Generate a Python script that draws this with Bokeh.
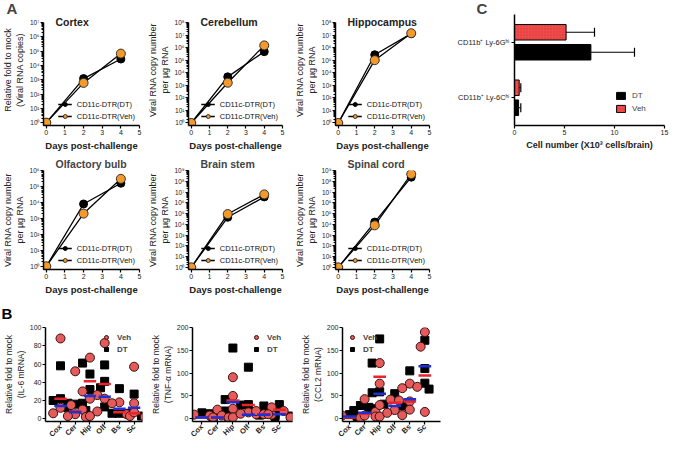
import math
from bokeh.plotting import figure
from bokeh.layouts import column, row
from bokeh.models import (FixedTicker, Legend, LegendItem, Label, Range1d,
                          FactorRange, ColumnDataSource, Spacer)
from bokeh.transform import dodge
from bokeh.embed import file_html
from bokeh.resources import INLINE

# ---------------- data: panel A ----------------
days = [0, 2, 4]
cortex_dt = [1, 1.2e3, 2.8e4]
cortex_veh = [1, 6.0e2, 6.7e4]
cerebellum_dt = [1, 4.7e3, 4.8e5]
cerebellum_veh = [1, 1.6e3, 1.5e6]
hippocampus_dt = [1, 2.7e5, 1.3e7]
hippocampus_veh = [1, 1.0e5, 1.4e7]
olfactory_dt = [1, 8.0e3, 1.6e5]
olfactory_veh = [1, 2.0e3, 3.0e5]
brainstem_dt = [1, 4.5e4, 3.5e6]
brainstem_veh = [1, 9.0e4, 6.0e6]
spinal_dt = [1, 1.6e4, 2.4e8]
spinal_veh = [1, 8.0e3, 4.6e8]

# ---------------- data: panel B ----------------
regions = ["Cox", "Cer", "Hip", "Olf", "Bs", "Sc"]
il6_veh = [[88, 15, 12, 6], [52, 10, 5, 3, 2], [67, 30, 26, 22, 3],
           [83, 22, 8], [18, 17, 5, 3], [57, 17, 7, 2]]
il6_dt = [[58, 22, 20, 17], [16, 12, 9], [61, 49, 32, 17],
          [59, 41, 34, 13], [33, 6, 6], [27, 6, 3]]
il6_veh_mean = [22, 8, 41, 38, 7, 6]
il6_dt_mean = [14, 7, 25, 24, 11, 12]

tnf_veh = [[9, 7, 3], [20, 7, 3], [91, 50, 22, 3], [14, 11, 10],
           [17, 10, 9], [25, 17, 10, 3]]
tnf_dt = [[13, 5, 2], [11, 7, 5], [155, 42, 17], [113, 31, 30, 8],
          [28, 7, 5], [31, 11, 6]]
tnf_veh_mean = [3, 3, 40, 30, 10, 20]
tnf_dt_mean = [3, 3, 36, 9, 9, 10]

ccl2_veh = [[7, 3, 2], [43, 15, 7, 5], [122, 77, 30, 5], [42, 40, 19, 13],
            [77, 67, 38, 20, 8], [190, 158, 70, 15]]
ccl2_dt = [[9, 5], [29, 25, 18], [175, 122, 59, 57, 22], [55, 32, 30],
           [105, 28], [172, 110, 78, 65]]
ccl2_veh_mean = [3, 11, 92, 35, 38, 95]
ccl2_dt_mean = [5, 13, 55, 28, 43, 115]

# ---------------- data: panel C ----------------
cells = ["CD11b⁺ Ly-6Cʰⁱ", "CD11b⁺ Ly-6Gʰⁱ"]
c_dt = [0.41, 7.64]
c_dt_err = [0.22, 4.36]
c_veh = [0.47, 5.16]
c_veh_err = [0.16, 2.84]

FONT = "Liberation Sans"
ORANGE = "#F39A2B"
PINK = "#E55B5B"
BARRED = "#F24B4B"
MEANRED = "#E8252A"
MEANBLUE = "#1F2FD6"
SUP = "⁰¹²³⁴⁵⁶⁷⁸⁹"


def make_fig(width, height, left, fw, top, fh, **kw):
    p = figure(width=width, height=height, min_border_left=left,
               min_border_right=width - left - fw, min_border_top=top,
               min_border_bottom=height - top - fh, output_backend="svg",
               toolbar_location=None, **kw)
    p.outline_line_color = None
    p.xgrid.visible = False
    p.ygrid.visible = False
    for ax in p.axis:
        ax.axis_line_width = 1.5
        ax.axis_line_color = "black"
        ax.major_tick_line_color = "black"
        ax.major_tick_line_width = 1.2
        ax.major_tick_in = 0
        ax.major_tick_out = 3
        ax.minor_tick_in = 0
        ax.minor_tick_out = 2
        ax.minor_tick_line_color = "black"
        ax.major_label_text_font = FONT
        ax.major_label_text_font_size = "7px"
        ax.major_label_text_color = "#222222"
        ax.major_label_standoff = 1
        ax.axis_label_text_font = FONT
        ax.axis_label_text_font_style = "normal"
        ax.axis_label_text_color = "#222222"
        ax.axis_label_standoff = 2
    return p


def letter_title(p, offset):
    # panel letter drawn as the figure title, pulled over the left border
    p.title.align = "left"
    p.title.offset = offset
    p.title.text_font = FONT
    p.title.text_font_size = "15px"
    p.title.text_font_style = "bold"
    p.title.standoff = -5


def panel_a(title, ylabel, dt, veh, top_exp, width, left, fw, height, top, fh,
            ext=0, tag=None):
    lo = -0.2
    px_dec = (fh - ext) / (top_exp - lo)
    hi = top_exp + ext / px_dec
    fig_title = (tag if tag else None) if ext else title
    p = make_fig(width, height, left, fw, top, fh, title=fig_title,
                 x_range=Range1d(-0.15, 5), y_range=Range1d(10 ** lo, 10 ** hi),
                 y_axis_type="log")
    if ext:
        p.add_layout(Label(x=12, y=fh - 7, x_units="screen", y_units="screen", text=title,
                           text_font=FONT, text_font_size="10.5px", text_font_style="bold",
                           text_baseline="alphabetic", text_color="#222222"))
        if tag:
            letter_title(p, -left)
    else:
        p.title.align = "left"
        p.title.offset = 12
        p.title.text_font = FONT
        p.title.text_font_size = "10.5px"
        p.title.text_font_style = "bold"
        p.title.standoff = 2
    l1 = p.line(days, dt, line_color="black", line_width=1.3)
    l2 = p.line(days, veh, line_color="black", line_width=1.3)
    s1 = p.scatter(days, dt, marker="circle", size=8, fill_color="black", line_color="black")
    s2 = p.scatter(days, veh, marker="circle", size=9, fill_color=ORANGE,
                   line_color="#333333", line_width=1)
    leg = Legend(items=[LegendItem(label="CD11c-DTR(DT)", renderers=[l1, s1]),
                        LegendItem(label="CD11c-DTR(Veh)", renderers=[l2, s2])],
                 location="bottom_right")
    leg.background_fill_alpha = 0
    leg.border_line_alpha = 0
    leg.label_text_font = FONT
    leg.label_text_font_size = "7.5px"
    leg.label_text_color = "#111111"
    leg.glyph_width = 14
    leg.glyph_height = 10
    leg.label_height = 10
    leg.spacing = 2
    leg.padding = 1
    leg.margin = 3
    leg.label_standoff = 5
    p.add_layout(leg)
    p.xaxis.ticker = FixedTicker(ticks=[0, 1, 2, 3, 4, 5])
    p.xaxis.minor_tick_line_color = None
    p.xaxis.axis_label = "Days post-challenge"
    p.xaxis.axis_label_text_font_size = "9.5px"
    p.xaxis.axis_label_text_font_style = "bold"
    major = [10 ** k for k in range(top_exp + 1)]
    minor = [m * 10 ** k for k in range(top_exp) for m in range(2, 10)]
    p.yaxis.ticker = FixedTicker(ticks=major, minor_ticks=minor)
    p.yaxis.bounds = (10 ** lo, 10 ** top_exp)
    p.yaxis.major_label_overrides = {10 ** k: "10" + SUP[k] for k in range(top_exp + 1)}
    p.yaxis.major_label_text_font_size = "6.5px"
    p.yaxis.axis_label = ylabel
    p.yaxis.axis_label_text_font_size = "9px"
    p.yaxis.axis_label_standoff = 1
    return p


def panel_b(ylabel, veh, dt, veh_mean, dt_mean, ymin, ymax, yticks, xr,
            width, left, fw, height, top, fh, legend_loc, tag=None):
    p = make_fig(width, height, left, fw, top, fh, title=None,
                 x_range=Range1d(*xr), y_range=Range1d(ymin, ymax))
    px_x = fw / (xr[1] - xr[0])
    px_y = fh / (ymax - ymin)
    offs = [0, -0.28, 0.28, -0.5, 0.5, -0.72, 0.72]
    vx, vy, dx, dy = [], [], [], []
    for i in range(len(regions)):
        c = i + 1
        pts = sorted([(v, "veh") for v in veh[i]] + [(v, "dt") for v in dt[i]],
                     key=lambda t: -t[0])
        placed = []
        for v, s in pts:
            chosen = offs[-1]
            for o in offs:
                if all(math.hypot((o - po) * px_x, (v - pv) * px_y) >= 7.5
                       for po, pv in placed):
                    chosen = o
                    break
            placed.append((chosen, v))
            if s == "veh":
                vx.append(c + chosen)
                vy.append(v)
            else:
                dx.append(c + chosen)
                dy.append(v)
    sq = p.scatter(dx, dy, marker="square", size=8, fill_color="black", line_color="black")
    ci = p.scatter(vx, vy, marker="circle", size=9, fill_color=PINK,
                   line_color="#3a1010", line_width=1)
    cx = [i + 1 for i in range(len(regions))]
    p.segment(x0=[c - 0.42 for c in cx], x1=[c + 0.42 for c in cx], y0=veh_mean,
              y1=veh_mean, line_color=MEANRED, line_width=2.5)
    p.segment(x0=[c - 0.42 for c in cx], x1=[c + 0.42 for c in cx], y0=dt_mean,
              y1=dt_mean, line_color=MEANBLUE, line_width=2.5)
    leg = Legend(items=[LegendItem(label="Veh", renderers=[ci]),
                        LegendItem(label="DT", renderers=[sq])],
                 location=legend_loc)
    leg.background_fill_alpha = 0
    leg.border_line_alpha = 0
    leg.label_text_font = FONT
    leg.label_text_font_size = "8px"
    leg.label_text_font_style = "bold"
    leg.glyph_width = 10
    leg.glyph_height = 10
    leg.label_height = 10
    leg.spacing = 2
    leg.padding = 2
    leg.margin = 3
    leg.label_standoff = 6
    p.add_layout(leg)
    p.xaxis.ticker = FixedTicker(ticks=cx)
    p.xaxis.major_label_overrides = {i + 1: r for i, r in enumerate(regions)}
    p.xaxis.major_label_orientation = math.pi / 4
    p.xaxis.major_label_text_font_size = "7.5px"
    p.xaxis.major_label_text_font_style = "bold"
    p.xaxis.minor_tick_line_color = None
    p.yaxis.ticker = FixedTicker(ticks=yticks)
    p.yaxis.minor_tick_line_color = None
    p.yaxis.axis_label = ylabel
    p.yaxis.axis_label_text_font_size = "8.5px"
    p.yaxis.axis_label_standoff = 1
    if tag:
        p.add_layout(Label(x=1, y=13, x_units="canvas", y_units="canvas", text=tag,
                           text_font=FONT, text_font_size="15px", text_font_style="bold",
                           text_baseline="alphabetic", text_align="left",
                           text_color="black"), "above")
    return p


# ---------------- panel A ----------------
VLAB = "Viral RNA copy number\nper µg RNA"
cortex = panel_a("Cortex", "Relative fold to mock\n(Viral RNA copies)", cortex_dt, cortex_veh,
                 7, 145, 37, 102, 154, 14, 111, ext=8, tag="A")
cerebellum = panel_a("Cerebellum", VLAB, cerebellum_dt, cerebellum_veh,
                     8, 147, 36, 101, 154, 14, 111, ext=8)
hippocampus = panel_a("Hippocampus", VLAB, hippocampus_dt, hippocampus_veh,
                      8, 155, 37, 100, 154, 14, 111, ext=8)
olfactory = panel_a("Olfactory bulb", VLAB, olfactory_dt, olfactory_veh,
                    6, 145, 37, 102, 146, 13, 102)
brainstem = panel_a("Brain stem", VLAB, brainstem_dt, brainstem_veh,
                    9, 147, 36, 101, 146, 13, 102)
spinal = panel_a("Spinal cord", VLAB, spinal_dt, spinal_veh,
                 9, 155, 37, 100, 146, 13, 102)

# ---------------- panel C ----------------
src = ColumnDataSource(dict(cell=cells, dt=c_dt, veh=c_veh,
                            dt_hi=[a + b for a, b in zip(c_dt, c_dt_err)],
                            veh_hi=[a + b for a, b in zip(c_veh, c_veh_err)]))
pc = make_fig(222, 154, 67, 150, 14, 111, title="C",
              y_range=FactorRange(factors=cells), x_range=Range1d(0, 15))
letter_title(pc, -38)
veh_r = pc.hbar(y=dodge("cell", 0.18, range=pc.y_range), left=0, right="veh", height=0.28,
                source=src, fill_color=BARRED, line_color="black", line_width=1,
                hatch_pattern="dot", hatch_color="#9a1515", hatch_alpha=0.35, hatch_scale=3)
dt_r = pc.hbar(y=dodge("cell", -0.18, range=pc.y_range), left=0, right="dt", height=0.28,
               source=src, fill_color="black", line_color="black", line_width=1)
for key, lo, off in [("veh_hi", "veh", 0.18), ("dt_hi", "dt", -0.18)]:
    pc.segment(x0=lo, x1=key, y0=dodge("cell", off, range=pc.y_range),
               y1=dodge("cell", off, range=pc.y_range), source=src,
               line_color="black", line_width=1.2)
    pc.segment(x0=key, x1=key, y0=dodge("cell", off - 0.08, range=pc.y_range),
               y1=dodge("cell", off + 0.08, range=pc.y_range), source=src,
               line_color="black", line_width=1.2)
legc = Legend(items=[LegendItem(label="DT", renderers=[dt_r]),
                     LegendItem(label="Veh", renderers=[veh_r])],
              location="bottom_right")
legc.background_fill_alpha = 0
legc.border_line_alpha = 0
legc.label_text_font = FONT
legc.label_text_font_size = "8px"
legc.glyph_width = 11
legc.glyph_height = 9
legc.label_height = 10
legc.spacing = 3
legc.padding = 2
legc.margin = 10
legc.label_standoff = 6
pc.add_layout(legc)
pc.xaxis.ticker = FixedTicker(ticks=[0, 5, 10, 15])
pc.xaxis.minor_tick_line_color = None
pc.xaxis.axis_label = "Cell number (X10³ cells/brain)"
pc.xaxis.axis_label_text_font_size = "9px"
pc.xaxis.axis_label_text_font_style = "bold"
pc.yaxis.major_label_text_font_size = "7.5px"
pc.yaxis.major_label_standoff = 2

# ---------------- panel B ----------------
b1 = panel_b("Relative fold to mock\n(IL-6 mRNA)", il6_veh, il6_dt, il6_veh_mean, il6_dt_mean,
             -3, 100, [0, 20, 40, 60, 80, 100], (-0.02, 6.57),
             147, 32, 110, 144, 27, 96, "top_right", tag="B")
b2 = panel_b("Relative fold to mock\n(TNF-α mRNA)", tnf_veh, tnf_dt, tnf_veh_mean, tnf_dt_mean,
             -6, 200, [0, 50, 100, 150, 200], (0.39, 6.85),
             150, 32, 113, 144, 27, 96, "top_right")
b3 = panel_b("Relative fold to mock\n(CCL2 mRNA)", ccl2_veh, ccl2_dt, ccl2_veh_mean, ccl2_dt_mean,
             -6, 200, [0, 50, 100, 150, 200], (0.53, 7.04),
             150, 33, 110, 144, 27, 96, "top_left")

layout = column(
    row(cortex, cerebellum, hippocampus, pc),
    row(olfactory, brainstem, spinal, Spacer(width=222, height=146)),
    row(b1, b2, b3, Spacer(width=222, height=144)),
)

open("out.html", "w").write(file_html(layout, INLINE))
